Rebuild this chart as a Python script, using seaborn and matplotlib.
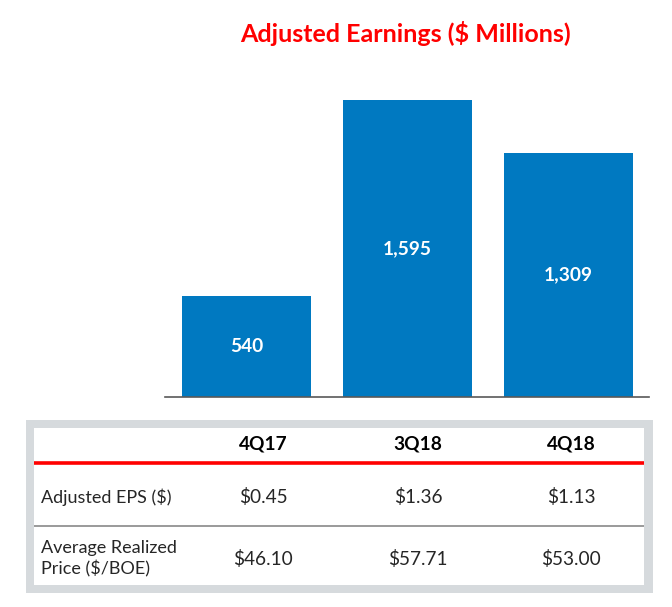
import matplotlib
matplotlib.use("Agg")
import matplotlib.pyplot as plt
import seaborn as sns
import pandas as pd
from matplotlib.patches import Rectangle

# ---- data ----
quarters = ["4Q17", "3Q18", "4Q18"]
earnings = [540, 1595, 1309]
eps_labels = ["$0.45", "$1.36", "$1.13"]
price_labels = ["$46.10", "$57.71", "$53.00"]
row_labels = ["Adjusted EPS ($)", "Average Realized\nPrice ($/BOE)"]
title = "Adjusted Earnings ($ Millions)"

sns.set_theme(style="white")
plt.rcParams["font.family"] = ["Lato", "DejaVu Sans"]

W, H = 672, 607
fig = plt.figure(figsize=(W / 100, H / 100), dpi=100)
fig.patch.set_facecolor("white")

def px_axes(l, t, r, b):
    return [l / W, 1 - b / H, (r - l) / W, (b - t) / H]

bar_color = "#0079C1"
ax = fig.add_axes(px_axes(165, 80.4, 649, 397))
df = pd.DataFrame({"q": quarters, "v": earnings})
sns.barplot(data=df, x="q", y="v", color=bar_color, width=0.8, ax=ax,
            saturation=1, edgecolor="none")
ax.set_xlim(-0.506, 2.5)
ax.set_ylim(0, 1700)
ax.set_xlabel("")
ax.set_ylabel("")
ax.set_xticks([])
ax.set_yticks([])
for s in ["top", "left", "right"]:
    ax.spines[s].set_visible(False)
ax.spines["bottom"].set_color("#595959")
ax.spines["bottom"].set_linewidth(1.2)
ax.patch.set_alpha(0)
for i, v in enumerate(earnings):
    ax.text(i, v / 2, f"{v:,}", ha="center", va="center", color="white",
            fontsize=13.8, fontweight="bold")

fig.text(405.5 / W, 1 - 34 / H, title, ha="center", va="center",
         color="#FF0000", fontsize=18, fontweight="bold")

# ---- table overlay ----
tx = fig.add_axes([0, 0, 1, 1])
tx.set_xlim(0, W)
tx.set_ylim(H, 0)
tx.axis("off")
tx.patch.set_alpha(0)

tx.add_patch(Rectangle((26, 420), 627, 173, facecolor="#D6DADD", edgecolor="none"))
tx.add_patch(Rectangle((34, 428), 610, 157, facecolor="white", edgecolor="none"))
tx.plot([34, 644], [463, 463], color="#FF0000", lw=2.6, solid_capstyle="butt")
tx.plot([34, 644], [526, 526], color="#7F7F7F", lw=1.1, solid_capstyle="butt")

col_x = [263, 418, 571]
text_color = "#262626"
for x, q, e, p in zip(col_x, quarters, eps_labels, price_labels):
    tx.text(x, 444, q, ha="center", va="center", fontsize=13.8,
            fontweight="bold", color="black")
    tx.text(x, 497, e, ha="center", va="center", fontsize=13.7, color=text_color)
    tx.text(x, 559, p, ha="center", va="center", fontsize=13.7, color=text_color)

tx.text(41, 497, row_labels[0], ha="left", va="center", fontsize=13, color=text_color)
tx.text(41, 559, row_labels[1], ha="left", va="center", fontsize=13,
        color=text_color, linespacing=1.3)

fig.savefig("out.png", dpi=100, facecolor="white")
